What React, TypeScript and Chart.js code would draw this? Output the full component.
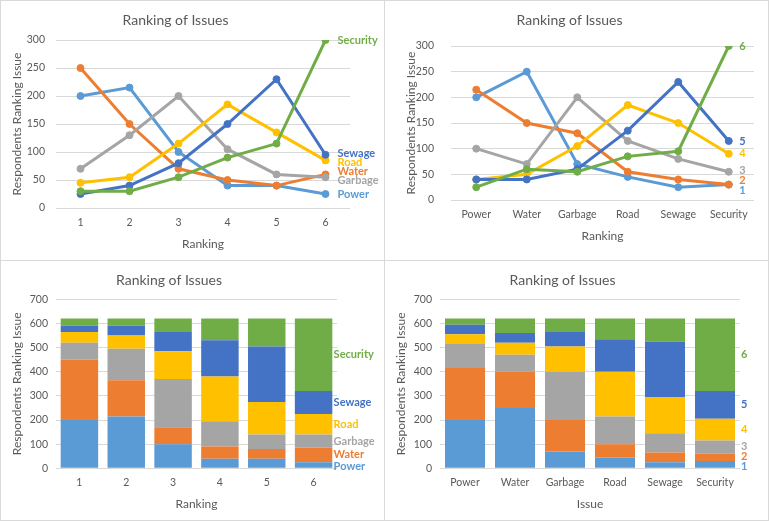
import { useEffect, useRef } from 'react';
import { Chart, registerables } from 'chart.js';

Chart.register(...registerables);

// 資料
const issues = ['Power', 'Water', 'Garbage', 'Road', 'Sewage', 'Security'];
const rankings = ['1', '2', '3', '4', '5', '6'];
const rankLabels = ['1', '2', '3', '4', '5', '6'];

// respondents per ranking (1..6) for each issue
const power = [200, 215, 100, 40, 40, 25];
const water = [250, 150, 70, 50, 40, 60];
const garbage = [70, 130, 200, 105, 60, 55];
const road = [45, 55, 115, 185, 135, 85];
const sewage = [25, 40, 80, 150, 230, 95];
const security = [30, 30, 55, 90, 115, 300];

const colors = ['#5B9BD5', '#ED7D31', '#A5A5A5', '#FFC000', '#4472C4', '#70AD47'];

const byIssue = [power, water, garbage, road, sewage, security];
// transpose: one series per ranking, values across issues
const byRank = rankings.map((_, r) => byIssue.map(row => row[r]));

const TEXT = '#595959';
const GRID = '#D9D9D9';
Chart.defaults.font.family = 'Lato, "Open Sans", sans-serif';

// 末端標籤
const endLabels = {
  id: 'endLabels',
  afterDatasetsDraw(chart: any, _args: any, opts: any) {
    if (!opts || !opts.labels) return;
    const ctx = chart.ctx;
    const items = chart.data.datasets.map((ds: any, i: number) => {
      const meta = chart.getDatasetMeta(i);
      const el = meta.data[meta.data.length - 1];
      let x, y;
      if (opts.bar) {
        const p = el.getProps(['x', 'y', 'base', 'width'], true);
        x = p.x + p.width / 2 + opts.dx;
        y = (p.y + p.base) / 2;
      } else {
        x = el.x + opts.dx;
        y = el.y;
      }
      return { x, y, idx: i, text: opts.labels[i], color: colors[i] };
    });
    // ties: later series goes on top
    const sorted = [...items].sort((a, b) => (a.y - b.y) || (b.idx - a.idx));
    for (let it = 0; it < 60; it++) {
      for (let k = 1; k < sorted.length; k++) {
        const d = sorted[k].y - sorted[k - 1].y;
        if (d < opts.gap) {
          const s = (opts.gap - d) / 2;
          sorted[k - 1].y -= s;
          sorted[k].y += s;
        }
      }
    }
    ctx.save();
    ctx.font = 'bold 11px Lato, "Open Sans", sans-serif';
    ctx.textAlign = 'left';
    ctx.textBaseline = 'middle';
    items.forEach((it: any) => {
      ctx.fillStyle = it.color;
      ctx.fillText(it.text, it.x, it.y);
    });
    ctx.restore();
  },
};

interface Layout {
  yWidth: number;
  padRight: number;
  titleTop: number;
  titleBottom: number;
  xHeight: number;
  yTickPad: number;
  yTitlePad: number;
  xTickPad: number;
  xTitlePad: number;
  labelDx: number;
  gap: number;
}

function makeOptions(L: Layout, yMax: number, yStep: number, xTitle: string, stacked: boolean, labels: string[]) {
  return {
    responsive: false,
    animation: false,
    devicePixelRatio: 1,
    layout: { padding: { left: 0, right: L.padRight, top: 0, bottom: 0 } },
    plugins: {
      legend: { display: false },
      tooltip: { enabled: false },
      title: {
        display: true,
        text: 'Ranking of Issues',
        color: TEXT,
        font: { size: 14, weight: 'normal' },
        padding: { top: L.titleTop, bottom: L.titleBottom },
      },
      endLabels: { labels, dx: L.labelDx, gap: L.gap, bar: stacked },
    },
    scales: {
      x: {
        stacked,
        offset: true,
        grid: { display: false, drawTicks: false },
        border: { display: false },
        ticks: { color: TEXT, font: { size: 10.5 }, padding: L.xTickPad, maxRotation: 0, autoSkip: false },
        title: { display: true, text: xTitle, color: TEXT, font: { size: 12 }, padding: { top: 0, bottom: L.xTitlePad } },
        afterFit: (s: any) => { s.height = L.xHeight; },
      },
      y: {
        stacked,
        min: 0,
        max: yMax,
        grid: { color: GRID, drawTicks: false },
        border: { display: false },
        ticks: { color: TEXT, font: { size: 10.5 }, padding: L.yTickPad, stepSize: yStep },
        title: { display: true, text: 'Respondents Ranking Issue', color: TEXT, font: { size: 12 }, padding: { top: L.yTitlePad, bottom: 0 } },
        afterFit: (s: any) => { s.width = L.yWidth; },
      },
    },
  };
}

function lineSets(series: number[][], names: string[]) {
  return series.map((d, i) => ({
    label: names[i],
    data: d,
    borderColor: colors[i],
    backgroundColor: colors[i],
    borderWidth: 3,
    pointRadius: 3.5,
    pointBorderWidth: 1,
    pointBackgroundColor: colors[i],
    pointBorderColor: colors[i],
    tension: 0,
    order: series.length - i,
  }));
}

function barSets(series: number[][], names: string[]) {
  return series.map((d, i) => ({
    label: names[i],
    data: d,
    backgroundColor: colors[i],
    borderWidth: 0,
    barPercentage: 0.8,
    categoryPercentage: 1,
  }));
}

function Panel({ left, top, config }: { left: number; top: number; config: any }) {
  const chartRef = useRef<HTMLCanvasElement>(null);
  const chartInstance = useRef<Chart | null>(null);

  useEffect(() => {
    if (!chartRef.current) return;
    if (chartInstance.current) chartInstance.current.destroy();
    chartInstance.current = new Chart(chartRef.current, config);
    return () => {
      if (chartInstance.current) {
        chartInstance.current.destroy();
        chartInstance.current = null;
      }
    };
  }, [config]);

  return (
    <div
      style={{
        position: 'absolute',
        left,
        top,
        width: 385,
        height: 261,
        boxSizing: 'border-box',
        border: `1px solid ${GRID}`,
        background: '#fff',
      }}
    >
      <canvas ref={chartRef} width={383} height={259} style={{ display: 'block' }}></canvas>
    </div>
  );
}

const tlLayout: Layout = { yWidth: 55, padRight: 34, titleTop: 10.6, titleBottom: 11.6, xHeight: 52, yTickPad: 11, yTitlePad: 8.8, xTickPad: 8.4, xTitlePad: 8.8, labelDx: 12, gap: 9 };
const trLayout: Layout = { yWidth: 66, padRight: 14, titleTop: 10.6, titleBottom: 17.6, xHeight: 60, yTickPad: 17, yTitlePad: 18.5, xTickPad: 8.7, xTitlePad: 16.8, labelDx: 10.5, gap: 10 };
const blLayout: Layout = { yWidth: 55, padRight: 47, titleTop: 10.6, titleBottom: 10.9, xHeight: 51.7, yTickPad: 8, yTitlePad: 8.8, xTickPad: 8.1, xTitlePad: 8.8, labelDx: 1.3, gap: 12 };
const brLayout: Layout = { yWidth: 55, padRight: 28, titleTop: 10.6, titleBottom: 10.9, xHeight: 51.7, yTickPad: 8, yTitlePad: 8.8, xTickPad: 8.1, xTitlePad: 8.8, labelDx: 6, gap: 10 };

const configs = [
  {
    type: 'line',
    data: { labels: rankings, datasets: lineSets(byIssue, issues) },
    options: makeOptions(tlLayout, 300, 50, 'Ranking', false, issues),
    plugins: [endLabels],
  },
  {
    type: 'line',
    data: { labels: issues, datasets: lineSets(byRank, rankLabels) },
    options: makeOptions(trLayout, 300, 50, 'Ranking', false, rankLabels),
    plugins: [endLabels],
  },
  {
    type: 'bar',
    data: { labels: rankings, datasets: barSets(byIssue, issues) },
    options: makeOptions(blLayout, 700, 100, 'Ranking', true, issues),
    plugins: [endLabels],
  },
  {
    type: 'bar',
    data: { labels: issues, datasets: barSets(byRank, rankLabels) },
    options: makeOptions(brLayout, 700, 100, 'Issue', true, rankLabels),
    plugins: [endLabels],
  },
];

export default function App() {
  return (
    <div style={{ position: 'absolute', left: 0, top: 0, width: 769, height: 521, background: '#fff' }}>
      <Panel left={0} top={0} config={configs[0]} />
      <Panel left={384} top={0} config={configs[1]} />
      <Panel left={0} top={260} config={configs[2]} />
      <Panel left={384} top={260} config={configs[3]} />
    </div>
  );
}
